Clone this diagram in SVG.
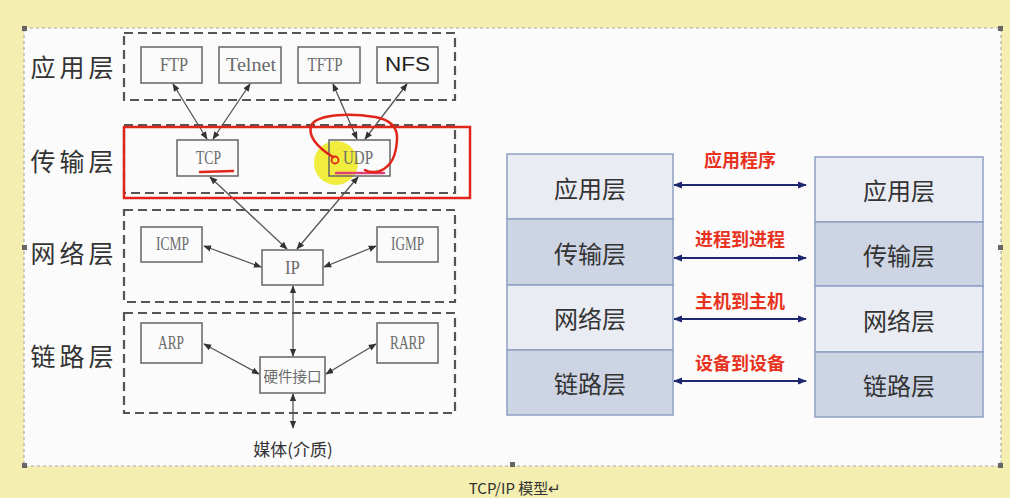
<svg xmlns="http://www.w3.org/2000/svg" width="1010" height="498" viewBox="0 0 1010 498">
<style>
.node{fill:#fbfbfb;stroke:#666;stroke-width:1.5}
.nt{font-family:"Liberation Serif","Noto Serif",serif;font-size:19px;fill:#6a6a6a;text-anchor:middle;dominant-baseline:central}
.layer{fill:none;stroke:#555;stroke-width:2.2;stroke-dasharray:9 5}
.ll{font-family:"Noto Sans CJK SC",sans-serif;font-size:25px;fill:#333;text-anchor:middle;dominant-baseline:central;letter-spacing:4px}
.conn{stroke:#555;stroke-width:1.3;fill:none;marker-start:url(#ah);marker-end:url(#ah)}
.stk{stroke:#8fa0c4;stroke-width:1.5}
.light{fill:#e9ecf3}
.dark{fill:#cdd5e5}
.st{font-family:"Noto Sans CJK SC",sans-serif;font-size:24px;fill:#333;text-anchor:middle;dominant-baseline:central}
.nav{stroke:#1e2870;stroke-width:2;fill:none;marker-start:url(#nh);marker-end:url(#nh)}
.red{font-family:"Noto Sans CJK SC",sans-serif;font-size:18px;font-weight:bold;fill:#e8321e;text-anchor:middle;dominant-baseline:central}
.h{fill:#666}
</style>
<defs>
<marker id="ah" viewBox="0 0 10 10" refX="9" refY="5" markerWidth="8" markerHeight="8" markerUnits="userSpaceOnUse" orient="auto-start-reverse"><path d="M0,1 L10,5 L0,9 z" fill="#333"/></marker>
<marker id="nh" viewBox="0 0 10 10" refX="9" refY="5" markerWidth="9" markerHeight="9" markerUnits="userSpaceOnUse" orient="auto-start-reverse"><path d="M0,1 L10,5 L0,9 z" fill="#1e2870"/></marker>
</defs>
<rect width="1010" height="498" fill="#f4efb0"/>
<rect x="24" y="28" width="977" height="438" fill="#fbfbfb" stroke="#aaa" stroke-width="1.2" stroke-dasharray="3 3"/>
<rect class="h" x="22" y="26" width="5" height="5"/><rect class="h" x="998" y="26" width="5" height="5"/>
<rect class="h" x="22" y="463" width="5" height="5"/><rect class="h" x="998" y="463" width="5" height="5"/>
<rect class="h" x="510" y="462" width="5" height="5"/><rect class="h" x="22" y="245" width="5" height="5"/><rect class="h" x="998" y="245" width="5" height="5"/>
<text x="515" y="487" font-family="'Noto Sans CJK SC',sans-serif" font-size="15" fill="#333" text-anchor="middle" dominant-baseline="central">TCP/IP 模型↵</text>

<g id="layers">
<rect class="layer" x="124" y="33" width="331" height="67"/>
<rect class="layer" x="124" y="125" width="331" height="68"/>
<rect class="layer" x="124" y="210" width="331" height="92"/>
<rect class="layer" x="124" y="313" width="331" height="100"/>
<text class="ll" x="74" y="66">应用层</text>
<text class="ll" x="74" y="160">传输层</text>
<text class="ll" x="74" y="252">网络层</text>
<text class="ll" x="74" y="355">链路层</text>
</g>

<g id="connectors">
<line class="conn" x1="173" y1="84" x2="207" y2="139"/>
<line class="conn" x1="250" y1="84" x2="213" y2="139"/>
<line class="conn" x1="333" y1="84" x2="357" y2="139"/>
<line class="conn" x1="407" y1="84" x2="365" y2="139"/>
<line class="conn" x1="210" y1="177" x2="287" y2="249"/>
<line class="conn" x1="358" y1="177" x2="297" y2="249"/>
<line class="conn" x1="204" y1="246" x2="261" y2="267"/>
<line class="conn" x1="376" y1="246" x2="324" y2="267"/>
<line class="conn" x1="293" y1="286" x2="293" y2="356"/>
<line class="conn" x1="204" y1="344" x2="259" y2="374"/>
<line class="conn" x1="376" y1="344" x2="326" y2="374"/>
<line class="conn" x1="293" y1="394" x2="293" y2="428"/>
<line class="nav" x1="674" y1="185" x2="806" y2="185"/>
<line class="nav" x1="674" y1="258" x2="806" y2="258"/>
<line class="nav" x1="674" y1="319" x2="806" y2="319"/>
<line class="nav" x1="674" y1="381" x2="806" y2="381"/>
</g>

<g id="ftp"><rect class="node" x="141" y="47" width="61" height="36"/><text class="nt" x="174" y="64" textLength="28" lengthAdjust="spacingAndGlyphs">FTP</text></g>
<g id="telnet"><rect class="node" x="219" y="47" width="62" height="36"/><text class="nt" x="251" y="64" textLength="50" lengthAdjust="spacingAndGlyphs">Telnet</text></g>
<g id="tftp"><rect class="node" x="298" y="47" width="62" height="36"/><text class="nt" x="325" y="64" textLength="35" lengthAdjust="spacingAndGlyphs">TFTP</text></g>
<g id="nfs"><rect class="node" x="377" y="47" width="61" height="36"/><text class="nt" x="407.5" y="64" textLength="45" lengthAdjust="spacingAndGlyphs" style="fill:#222;font-family:'Liberation Sans',sans-serif;font-size:20px">NFS</text></g>

<circle cx="336" cy="163" r="22" fill="#eeea1c" opacity="0.85"/>
<g id="tcp"><rect class="node" x="177" y="140" width="61" height="36" style="fill:none"/><text class="nt" x="208.5" y="157" textLength="25" lengthAdjust="spacingAndGlyphs">TCP</text></g>
<g id="udp"><rect class="node" x="329" y="140" width="61" height="36" style="fill:none"/><text class="nt" x="358" y="157" textLength="30" lengthAdjust="spacingAndGlyphs">UDP</text></g>

<g id="ip"><rect class="node" x="262" y="250" width="61" height="35"/><text class="nt" x="292.5" y="267" textLength="15" lengthAdjust="spacingAndGlyphs">IP</text></g>
<g id="icmp"><rect class="node" x="141" y="227" width="61" height="35"/><text class="nt" x="172.5" y="243" textLength="33" lengthAdjust="spacingAndGlyphs">ICMP</text></g>
<g id="igmp"><rect class="node" x="377" y="227" width="61" height="35"/><text class="nt" x="407.5" y="243" textLength="33" lengthAdjust="spacingAndGlyphs">IGMP</text></g>
<g id="arp"><rect class="node" x="141" y="323" width="61" height="40"/><text class="nt" x="171" y="342" textLength="26" lengthAdjust="spacingAndGlyphs">ARP</text></g>
<g id="rarp"><rect class="node" x="377" y="323" width="61" height="40"/><text class="nt" x="407.5" y="342" textLength="35" lengthAdjust="spacingAndGlyphs">RARP</text></g>
<g id="hw"><rect class="node" x="260" y="357" width="65" height="36"/><text class="nt" x="292.5" y="375" textLength="58" lengthAdjust="spacingAndGlyphs" style="font-family:'Noto Sans CJK SC',sans-serif;font-size:15px">硬件接口</text></g>
<g id="media"><text x="293" y="448" font-family="'Noto Sans CJK SC',sans-serif" font-size="17" fill="#333" text-anchor="middle" dominant-baseline="central">媒体(介质)</text></g>

<g id="annotations" fill="none" stroke="#e0261a" stroke-linecap="round">
<rect x="124" y="127" width="346" height="71" stroke-width="2.5"/>
<line x1="200" y1="172" x2="233" y2="171" stroke-width="2.5"/>
<line x1="336" y1="173" x2="384" y2="173" stroke="#e0407a" stroke-width="2.5"/>
<circle cx="335" cy="160" r="3.5" stroke-width="1.8"/>
<path d="M333,157 C318,148 306,135 312,124 C320,114 350,113 375,117 C392,120 398,128 397,140 C396,155 392,166 380,171 C375,173 368,172 365,170" stroke-width="2.5"/>
</g>

<g id="left-stack">
<rect class="stk light" x="507" y="154" width="166" height="65"/>
<rect class="stk dark" x="507" y="219" width="166" height="66"/>
<rect class="stk light" x="507" y="285" width="166" height="65"/>
<rect class="stk dark" x="507" y="350" width="166" height="65"/>
<text class="st" x="590" y="187">应用层</text>
<text class="st" x="590" y="252">传输层</text>
<text class="st" x="590" y="317">网络层</text>
<text class="st" x="590" y="382">链路层</text>
</g>
<g id="right-stack">
<rect class="stk light" x="815" y="157" width="168" height="65"/>
<rect class="stk dark" x="815" y="222" width="168" height="64"/>
<rect class="stk light" x="815" y="286" width="168" height="66"/>
<rect class="stk dark" x="815" y="352" width="168" height="65"/>
<text class="st" x="899" y="189">应用层</text>
<text class="st" x="899" y="254">传输层</text>
<text class="st" x="899" y="319">网络层</text>
<text class="st" x="899" y="384">链路层</text>
</g>
<g id="labels">
<text class="red" x="740" y="159">应用程序</text>
<text class="red" x="740" y="238">进程到进程</text>
<text class="red" x="740" y="300">主机到主机</text>
<text class="red" x="740" y="362">设备到设备</text>
</g>
</svg>
